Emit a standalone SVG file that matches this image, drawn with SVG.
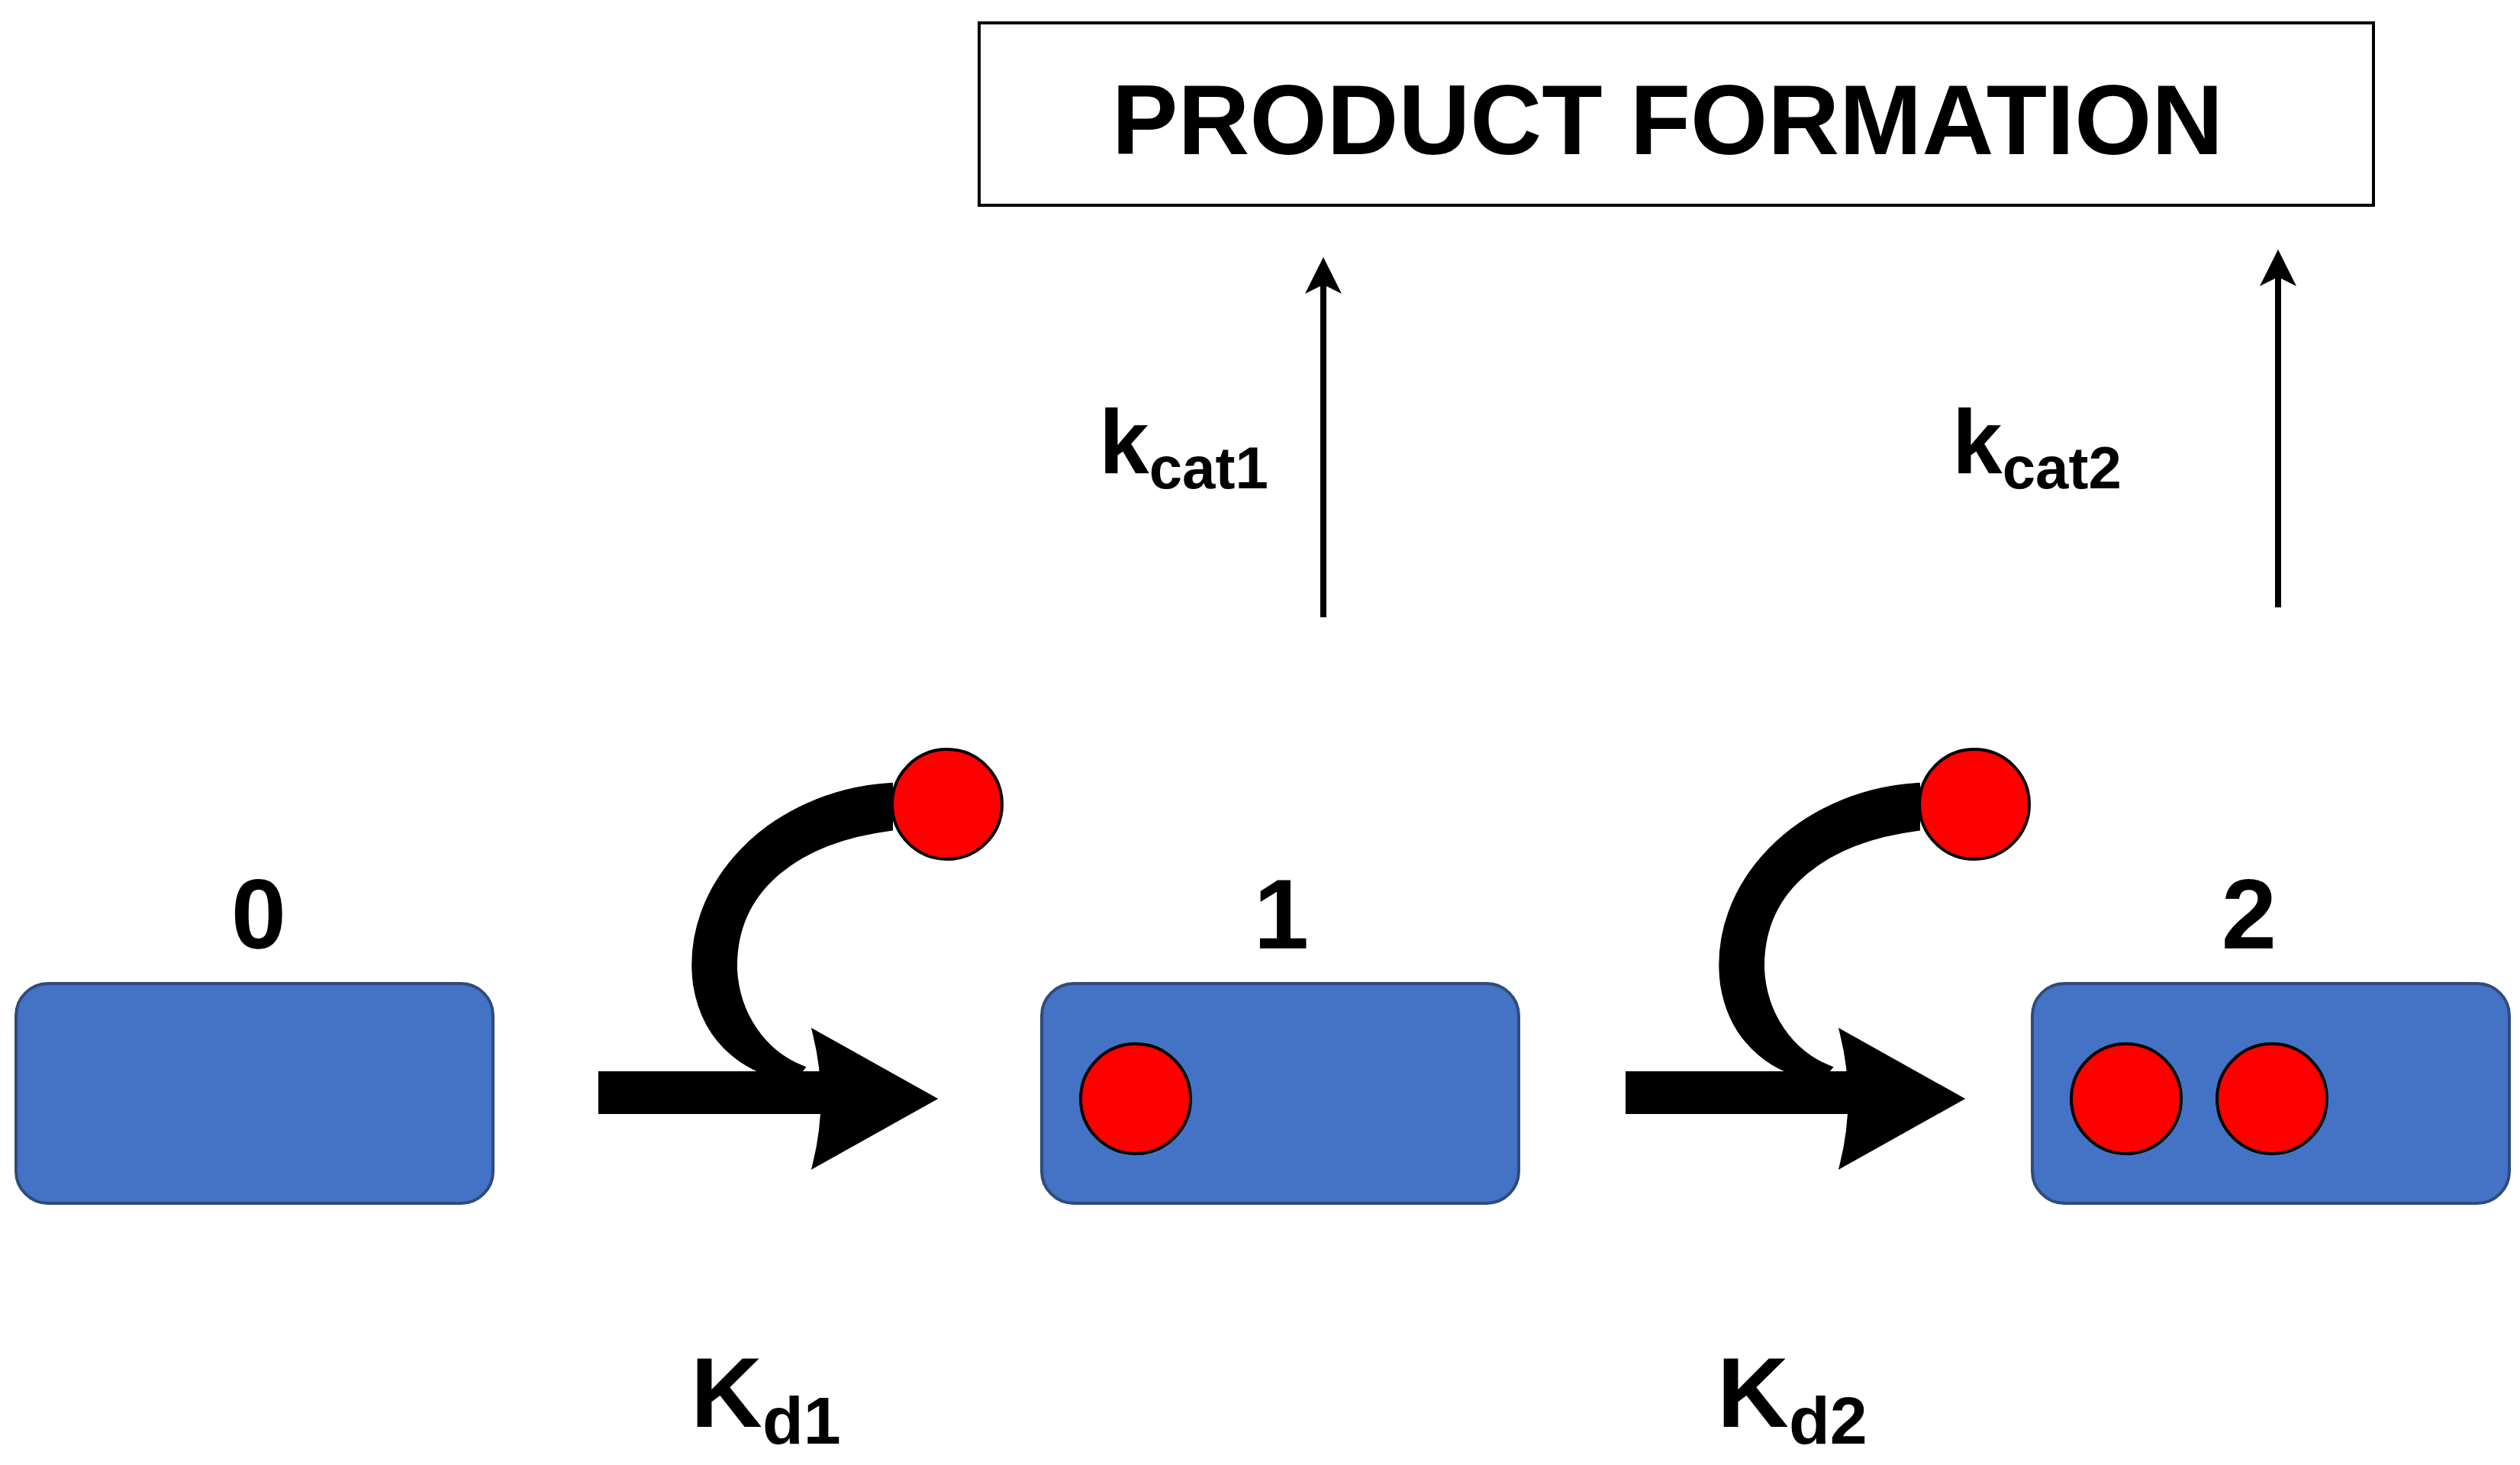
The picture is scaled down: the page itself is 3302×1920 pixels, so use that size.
<svg xmlns="http://www.w3.org/2000/svg" width="3302" height="1920" viewBox="0 0 3302 1920">
<style>
.t{font-family:"Liberation Sans",Arial,sans-serif;font-weight:bold;fill:#000}
.box{fill:#4472C4;stroke:#2F4B7C;stroke-width:4}
.dot{fill:#FF0000;stroke:#000;stroke-width:4}
</style>
<defs>
<marker id="ah" markerWidth="6" markerHeight="6" refX="5" refY="3" orient="auto" markerUnits="strokeWidth"><path d="M0,0 L6,3 L0,6 L1.5,3 Z" fill="#000"/></marker>
<g id="bigarrow">
<path d="M788,1408 H1080 V1456 H788 Z" fill="#000"/>
<path d="M1069,1355 L1221,1440 L1069,1525 Q1090,1440 1069,1355 Z" fill="#000"/>
<path d="M1166,1030 C1010,1040 895,1160 912,1290 C925,1370 985,1408 1040,1412 L1050,1400 C1000,1380 965,1330 962,1270 C960,1160 1050,1100 1166,1085 Z" fill="#000"/>
</g>
</defs>
<rect x="1283" y="30" width="1827" height="239" fill="#fff" stroke="#000" stroke-width="4"/>
<text class="t" x="2185" y="202" font-size="130" text-anchor="middle">PRODUCT FORMATION</text>
<g id="connectors" stroke="#000" stroke-width="8" fill="none">
<line x1="1734" y1="809" x2="1734" y2="345" marker-end="url(#ah)"/>
<line x1="2985" y1="796" x2="2985" y2="335" marker-end="url(#ah)"/>
<use href="#bigarrow"/>
<use href="#bigarrow" x="1346"/>
</g>
<text class="t" x="1440" y="620" font-size="118">k<tspan font-size="78" dy="20">cat1</tspan></text>
<text class="t" x="2558" y="620" font-size="118">k<tspan font-size="78" dy="20">cat2</tspan></text>
<g id="n0"><rect class="box" x="21" y="1289" width="625" height="288" rx="42"/><text class="t" x="339" y="1243" font-size="130" text-anchor="middle">0</text></g>
<g id="n1"><rect class="box" x="1365" y="1289" width="625" height="288" rx="42"/><circle class="dot" cx="1488" cy="1440" r="72"/><text class="t" x="1679" y="1243" font-size="130" text-anchor="middle">1</text></g>
<g id="n2"><rect class="box" x="2663" y="1289" width="625" height="288" rx="42"/><circle class="dot" cx="2786" cy="1440" r="72"/><circle class="dot" cx="2977" cy="1440" r="72"/><text class="t" x="2947" y="1243" font-size="130" text-anchor="middle">2</text></g>
<circle class="dot" cx="1241" cy="1054" r="72"/>
<circle class="dot" cx="2587" cy="1054" r="72"/>
<text class="t" x="905" y="1870" font-size="130">K<tspan font-size="88" dy="22">d1</tspan></text>
<text class="t" x="2250" y="1870" font-size="130">K<tspan font-size="88" dy="22">d2</tspan></text>
</svg>
